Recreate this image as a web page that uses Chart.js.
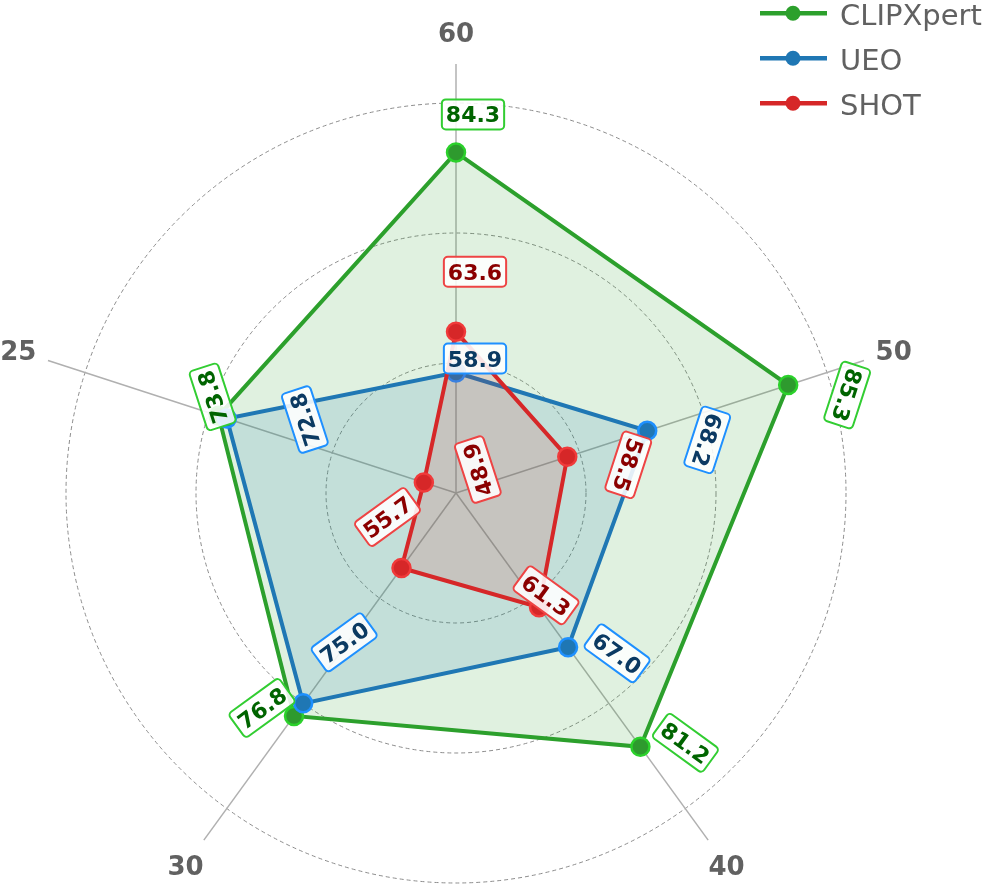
<!DOCTYPE html>
<html>
<head>
<meta charset="utf-8">
<script src="https://cdn.jsdelivr.net/npm/chart.js@4.4.1/dist/chart.umd.min.js"></script>
<style>
  html, body { margin: 0; padding: 0; background: #ffffff; }
  #wrap { width: 997px; height: 888px; }
</style>
</head>
<body>
<div id="wrap"><canvas id="radar"></canvas></div>
<script>
// data
const labels = ["60", "50", "40", "30", "25"];
const clipxpert = [84.3, 85.3, 81.2, 76.8, 73.8];
const ueo = [58.9, 68.2, 67.0, 75.0, 72.8];
const shot = [63.6, 58.5, 61.3, 55.7, 48.9];

const FONT = "'DejaVu Sans', 'Liberation Sans', sans-serif";
const GREY_TEXT = "#616161";

// label look per series: [text, border]
const tagStyles = [
  ["#006400", "#32cd32"],
  ["#0b3a62", "#1e90ff"],
  ["#8b0000", "#ee4444"],
];
// where each value tag sits relative to its point (px), per series / axis
const tagOffsets = [
  [[17, -38], [59, 10], [45, -4], [-32, -8], [-6, -19]],
  [[19, -14], [60, 9], [49, 6], [41, -61], [78, 1]],
  [[19, -60], [61, 8], [7, -12], [-14, -51], [54, -13]],
];
const tagRotation = [0, 108, 36, -36, -108];

function drawTag(ctx, text, x, y, rotDeg, colors) {
  ctx.save();
  ctx.translate(x, y);
  ctx.rotate(rotDeg * Math.PI / 180);
  ctx.font = "bold 22px " + FONT;
  const tw = ctx.measureText(text).width;
  const w = tw + 8, h = 30;
  ctx.beginPath();
  ctx.roundRect(-w / 2, -h / 2, w, h, 4);
  ctx.fillStyle = "rgba(255,255,255,0.88)";
  ctx.fill();
  ctx.lineWidth = 2;
  ctx.strokeStyle = colors[1];
  ctx.stroke();
  ctx.fillStyle = colors[0];
  ctx.textAlign = "center";
  ctx.textBaseline = "alphabetic";
  ctx.fillText(text, 0, 8);
  ctx.restore();
}

const radarExtras = {
  id: "radarExtras",
  beforeDatasetsDraw(chart) {
    const scale = chart.scales.r;
    const ctx = chart.ctx;
    const far = scale.getDistanceFromCenterForValue(94.5);
    ctx.save();
    ctx.strokeStyle = "#b0b0b0";
    ctx.lineWidth = 1.5;
    labels.forEach((l, i) => {
      const p = scale.getPointPosition(i, far);
      ctx.beginPath();
      ctx.moveTo(scale.xCenter, scale.yCenter);
      ctx.lineTo(p.x, p.y);
      ctx.stroke();
    });
    ctx.restore();
  },
  afterDatasetsDraw(chart) {
    const ctx = chart.ctx;
    chart.data.datasets.forEach((ds, d) => {
      const meta = chart.getDatasetMeta(d);
      meta.data.forEach((pt, i) => {
        const off = tagOffsets[d][i];
        drawTag(ctx, ds.data[i].toFixed(1), pt.x + off[0], pt.y + off[1], tagRotation[i], tagStyles[d]);
      });
    });
  },
  afterDraw(chart) {
    const scale = chart.scales.r;
    const ctx = chart.ctx;
    ctx.save();
    // axis names
    const dist = scale.getDistanceFromCenterForValue(98.1);
    ctx.font = "bold 26px " + FONT;
    ctx.fillStyle = GREY_TEXT;
    ctx.textAlign = "center";
    ctx.textBaseline = "alphabetic";
    labels.forEach((l, i) => {
      const p = scale.getPointPosition(i, dist);
      ctx.fillText(l, p.x, p.y + 9.5);
    });
    // legend
    ctx.font = "29px " + FONT;
    ctx.textAlign = "left";
    chart.data.datasets.forEach((ds, k) => {
      const y = 13.3 + 45 * k;
      ctx.strokeStyle = ds.borderColor;
      ctx.lineWidth = 4.5;
      ctx.beginPath();
      ctx.moveTo(760, y);
      ctx.lineTo(827, y);
      ctx.stroke();
      ctx.fillStyle = ds.borderColor;
      ctx.beginPath();
      ctx.arc(793, y, 7.5, 0, Math.PI * 2);
      ctx.fill();
      ctx.fillStyle = GREY_TEXT;
      ctx.fillText(ds.label, 840, y + 11.7);
    });
    ctx.restore();
  }
};

const ctx = document.getElementById("radar");

new Chart(ctx, {
  type: "radar",
  data: {
    labels: labels,
    datasets: [
      {
        label: "CLIPXpert",
        data: clipxpert,
        borderColor: "#2ca02c",
        backgroundColor: "rgba(44,160,44,0.15)",
        fill: true,
        borderWidth: 4,
        pointRadius: 9,
        pointBackgroundColor: "#2e9a2e",
        pointBorderColor: "#2bd12b",
        pointBorderWidth: 2.5,
        order: 2,
      },
      {
        label: "UEO",
        data: ueo,
        borderColor: "#1f77b4",
        backgroundColor: "rgba(31,119,180,0.15)",
        fill: true,
        borderWidth: 4,
        pointRadius: 9,
        pointBackgroundColor: "#1f77b4",
        pointBorderColor: "#1e90ff",
        pointBorderWidth: 2.5,
        order: 1,
      },
      {
        label: "SHOT",
        data: shot,
        borderColor: "#d62728",
        backgroundColor: "rgba(214,39,40,0.15)",
        fill: true,
        borderWidth: 4,
        pointRadius: 9,
        pointBackgroundColor: "#d62728",
        pointBorderColor: "#f03a3a",
        pointBorderWidth: 2.5,
        order: 0,
      },
    ],
  },
  options: {
    responsive: true,
    maintainAspectRatio: false,
    animation: false,
    devicePixelRatio: 1,
    events: [],
    layout: { padding: { top: 103, bottom: 5, left: 66, right: 151 } },
    plugins: {
      legend: { display: false },
      tooltip: { enabled: false },
    },
    scales: {
      r: {
        min: 45,
        max: 90,
        ticks: { display: false, stepSize: 15 },
        pointLabels: { display: false },
        angleLines: { display: false },
        grid: { circular: true, color: "#8c8c8c", lineWidth: 1 },
        border: { dash: [4, 3] },
      },
    },
  },
  plugins: [radarExtras],
});
</script>
</body>
</html>
